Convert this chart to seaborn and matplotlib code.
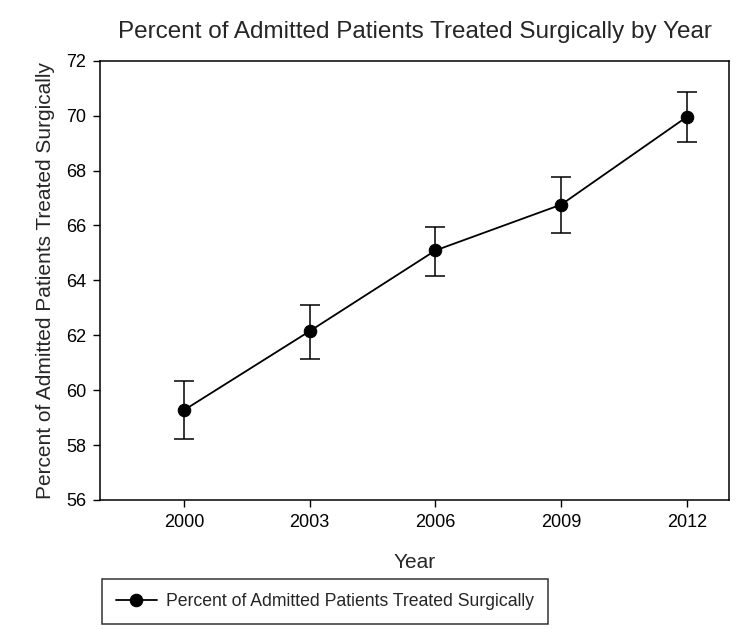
import pandas as pd
import seaborn as sns
import matplotlib
matplotlib.use("Agg")
import matplotlib.pyplot as plt

# values
years = [2000, 2003, 2006, 2009, 2012]
percent = [59.27, 62.15, 65.09, 66.76, 69.96]
lower = [58.23, 61.15, 64.17, 65.73, 69.03]
upper = [60.33, 63.10, 65.96, 67.78, 70.85]
y_ticks = [56, 58, 60, 62, 64, 66, 68, 70, 72]
series_label = "Percent of Admitted Patients Treated Surgically"

sns.set_style("ticks")
plt.rcParams["font.family"] = ["Liberation Sans", "DejaVu Sans"]

df = pd.DataFrame({"year": years, "percent": percent})
yerr = [
    [p - lo for p, lo in zip(percent, lower)],
    [hi - p for p, hi in zip(percent, upper)],
]

fig = plt.figure(figsize=(7.43, 6.29), dpi=100)
ax = fig.add_axes([0.1346, 0.2051, 0.8466, 0.6984])

ax.errorbar(years, percent, yerr=yerr, fmt="none", ecolor="black",
            elinewidth=1.1, capsize=7, capthick=1.1, zorder=2)
sns.lineplot(data=df, x="year", y="percent", ax=ax, color="black",
             marker="o", markersize=9, linewidth=1.3,
             markeredgecolor="black", label=series_label, legend=False,
             zorder=3)

ax.set_xlim(1998, 2013)
ax.set_ylim(56, 72)
ax.set_xticks(years)
ax.set_yticks(y_ticks)
ax.tick_params(direction="out", length=5, width=1, labelsize=13,
               colors="black", pad=5)
for s in ax.spines.values():
    s.set_visible(True)
    s.set_linewidth(1.1)
    s.set_color("black")

ax.set_xlabel("Year", fontsize=15, labelpad=16)
ax.set_ylabel(series_label, fontsize=15, labelpad=8)
ax.set_title("Percent of Admitted Patients Treated Surgically by Year",
             fontsize=17.5, pad=16)

handles, labels = ax.get_legend_handles_labels()
leg = fig.legend(handles, labels, loc="upper left",
                 bbox_to_anchor=(102 / 743, 1 - 579 / 629),
                 borderaxespad=0, fontsize=12.7, frameon=True, fancybox=False,
                 edgecolor="black", borderpad=0.8, handlelength=2.3,
                 handletextpad=0.5)
leg.get_frame().set_linewidth(1.1)

fig.savefig("out.png", dpi=100)
